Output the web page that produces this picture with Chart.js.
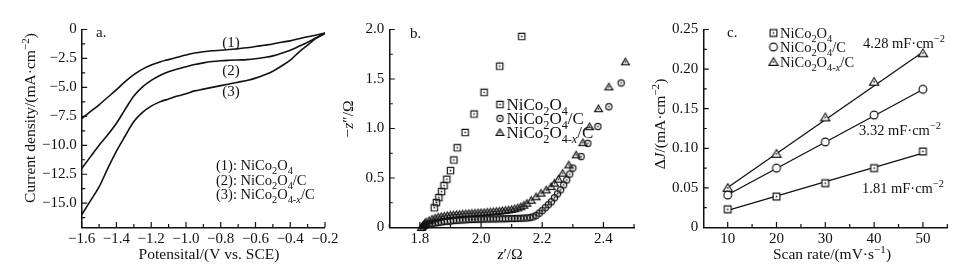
<!DOCTYPE html>
<html><head><meta charset="utf-8">
<script src="https://cdn.jsdelivr.net/npm/chart.js@4.4.1/dist/chart.umd.min.js"></script>
<style>
html,body{margin:0;padding:0;background:#fff;}
#wrap{position:relative;width:978px;height:273px;overflow:hidden;background:#fff;}
canvas{position:absolute;left:0;top:0;}
</style></head><body>
<div id="wrap">
<canvas id="ca" width="978" height="273"></canvas>
<canvas id="cb" width="978" height="273"></canvas>
<canvas id="cc" width="978" height="273"></canvas>
</div>
<script>
// ---------- Panel a: CV curves ----------
const potential = [-1.6,-1.55,-1.5,-1.45,-1.4,-1.35,-1.3,-1.25,-1.2,-1.15,-1.1,-1.05,-1.0,-0.95,-0.9,-0.85,-0.8,-0.75,-0.7,-0.65,-0.6,-0.55,-0.5,-0.45,-0.4,-0.35,-0.3,-0.25,-0.2];
const cv1 = [-7.7,-7.1,-6.5,-5.85,-5.2,-4.5,-3.9,-3.42,-3.07,-2.8,-2.6,-2.4,-2.2,-2.03,-1.92,-1.84,-1.79,-1.73,-1.66,-1.58,-1.47,-1.36,-1.25,-1.1,-0.98,-0.8,-0.63,-0.48,-0.3];
const cv2 = [-12.0,-11.0,-10.0,-9.1,-8.1,-6.9,-5.75,-4.95,-4.4,-3.97,-3.65,-3.42,-3.22,-3.02,-2.88,-2.77,-2.7,-2.66,-2.63,-2.6,-2.53,-2.42,-2.28,-2.05,-1.8,-1.45,-1.1,-0.7,-0.32];
const cv3 = [-16.0,-14.8,-13.6,-12.0,-10.5,-9.2,-7.95,-7.15,-6.62,-6.25,-6.0,-5.75,-5.55,-5.3,-5.15,-5.0,-4.85,-4.7,-4.55,-4.4,-4.2,-3.93,-3.6,-3.15,-2.65,-1.95,-1.35,-0.75,-0.35];
const aXTickVals = [-1.6,-1.4,-1.2,-1.0,-0.8,-0.6,-0.4,-0.2];
const aXTickLabels = ['−1.6','−1.4','−1.2','−1.0','−0.8','−0.6','−0.4','−0.2'];
const aYTickVals = [0,-2.5,-5,-7.5,-10,-12.5,-15];
const aYTickLabels = ['0','−2.5','−5.0','−7.5','−10.0','−12.5','−15.0'];
const curveTags = ['(1)','(2)','(3)'];
const aLegend = ['(1): NiCo_{2}O_{4}','(2): NiCo_{2}O_{4}/C','(3): NiCo_{2}O_{4-*x*}/C'];

// ---------- Panel b: Nyquist ----------
const sqZre = [1.847,1.854,1.862,1.871,1.879,1.888,1.900,1.911,1.922,1.948,1.977,2.010,2.061,2.133];
const sqZim = [0.200,0.252,0.302,0.363,0.423,0.488,0.575,0.682,0.806,0.960,1.146,1.365,1.630,1.930];
const ciZre = [1.81,1.815,1.82,1.83,1.84,1.85,1.86,1.87,1.88,1.89,1.90,1.91,1.92,1.93,1.94,1.95,1.96,1.97,1.98,1.99,2.00,2.01,2.02,2.03,2.04,2.05,2.06,2.07,2.08,2.09,2.10,2.11,2.12,2.13,2.14,2.15,2.16,2.17,2.18,2.19,2.20,2.21,2.22,2.23,2.24,2.25,2.26,2.27,2.28,2.29,2.30,2.327,2.349,2.382,2.418,2.458];
const ciZim = [0.0,0.015,0.025,0.035,0.04,0.045,0.05,0.055,0.06,0.063,0.066,0.07,0.072,0.074,0.076,0.078,0.08,0.081,0.082,0.083,0.084,0.085,0.086,0.086,0.087,0.087,0.088,0.088,0.089,0.09,0.09,0.091,0.092,0.093,0.095,0.097,0.10,0.107,0.12,0.145,0.17,0.20,0.23,0.26,0.30,0.34,0.38,0.43,0.48,0.54,0.60,0.716,0.85,1.02,1.22,1.46];
const trZre = [1.805,1.81,1.815,1.82,1.83,1.84,1.85,1.86,1.87,1.88,1.89,1.90,1.91,1.92,1.93,1.94,1.95,1.96,1.97,1.98,1.99,2.00,2.01,2.02,2.03,2.04,2.05,2.06,2.07,2.08,2.09,2.10,2.11,2.12,2.13,2.14,2.15,2.164,2.18,2.196,2.213,2.229,2.24,2.253,2.267,2.287,2.311,2.333,2.355,2.384,2.418,2.472];
const trZim = [0.0,0.02,0.04,0.055,0.07,0.085,0.095,0.105,0.11,0.115,0.12,0.125,0.128,0.131,0.134,0.137,0.14,0.142,0.144,0.146,0.148,0.15,0.152,0.155,0.158,0.16,0.163,0.166,0.17,0.174,0.178,0.183,0.19,0.198,0.21,0.225,0.245,0.275,0.31,0.347,0.38,0.413,0.448,0.488,0.548,0.632,0.733,0.857,1.018,1.2,1.42,1.673];
const bXTickVals = [1.8,2.0,2.2,2.4];
const bXTickLabels = ['1.8','2.0','2.2','2.4'];
const bYTickVals = [0,0.5,1.0,1.5,2.0];
const bYTickLabels = ['0','0.5','1.0','1.5','2.0'];
const seriesNames = ['NiCo_{2}O_{4}','NiCo_{2}O_{4}/C','NiCo_{2}O_{4-*x*}/C'];

// ---------- Panel c: double-layer capacitance ----------
const scanRate = [10,20,30,40,50];
const dJsq = [0.023,0.039,0.056,0.075,0.096];
const dJci = [0.041,0.075,0.108,0.142,0.1745];
const dJtr = [0.050,0.093,0.139,0.184,0.220];
const fitX = [10,50];
const fitSq = [0.0215,0.0940];
const fitCi = [0.0414,0.1742];
const fitTr = [0.0505,0.2217];
const capLabels = ['1.81 mF·cm^{−2}','3.32 mF·cm^{−2}','4.28 mF·cm^{−2}'];
const cXTickVals = [10,20,30,40,50];
const cXTickLabels = ['10','20','30','40','50'];
const cYTickVals = [0,0.05,0.10,0.15,0.20,0.25];
const cYTickLabels = ['0','0.05','0.10','0.15','0.20','0.25'];

// ---------- helpers ----------
const FONT = '"Liberation Serif", "Times New Roman", serif';
const INK = '#111';
const TICK_FS = 15, TITLE_FS = 15.5;
Chart.defaults.font.family = FONT;
Chart.defaults.font.size = TICK_FS;
Chart.defaults.color = INK;

function parseRich(str){
  const segs=[]; let i=0, mode=0, it=false, buf='';
  const push=()=>{ if(buf){ segs.push({t:buf,mode,it}); buf=''; } };
  while(i<str.length){
    const ch=str[i];
    if((ch==='_'||ch==='^') && str[i+1]==='{'){ push(); mode = ch==='_'?-1:1; i+=2; continue; }
    if(ch==='}' && mode!==0){ push(); mode=0; i++; continue; }
    if(ch==='*'){ push(); it=!it; i++; continue; }
    buf+=ch; i++;
  }
  push(); return segs;
}
function fontFor(s,size){ return (s.it?'italic ':'') + (s.mode? (size*0.72).toFixed(1) : size) + 'px ' + FONT; }
function drawRich(ctx,str,x,y,size,align,rot){
  const segs=parseRich(str);
  ctx.save(); ctx.translate(x,y); if(rot) ctx.rotate(rot);
  let w=0; for(const s of segs){ ctx.font=fontFor(s,size); s.w=ctx.measureText(s.t).width; w+=s.w; }
  let cx = align==='center' ? -w/2 : (align==='right' ? -w : 0);
  ctx.textAlign='left'; ctx.textBaseline='alphabetic'; ctx.fillStyle=INK;
  const base=size*0.34;
  for(const s of segs){
    ctx.font=fontFor(s,size);
    const dy = s.mode===-1 ? size*0.28 : (s.mode===1 ? -size*0.38 : 0);
    ctx.fillText(s.t,cx,base+dy); cx+=s.w;
  }
  ctx.restore();
}
function makeMarker(type,r,dot,fill){
  const s=Math.ceil(2*r+4), c=document.createElement('canvas'); c.width=s; c.height=s;
  const g=c.getContext('2d'), m=s/2;
  g.lineWidth=1.15; g.strokeStyle=INK; g.beginPath();
  if(type==='rect') g.rect(m-r,m-r,2*r,2*r);
  else if(type==='circle') g.arc(m,m,r,0,Math.PI*2);
  else { g.moveTo(m,m-r*1.05); g.lineTo(m+r*1.15,m+r*0.85); g.lineTo(m-r*1.15,m+r*0.85); g.closePath(); }
  if(fill){ g.fillStyle=fill; g.fill(); }
  g.stroke();
  if(dot){ g.fillStyle=INK; g.fillRect(m-0.75,m-0.75,1.5,1.5); }
  return c;
}
function axisCfg(o){
  return {
    type:'linear', min:o.min, max:o.max,
    grid:{display:false, drawTicks:false},
    border:{display:true, color:INK, width:1.5},
    ticks:{padding:o.pad, color:INK, font:{size:TICK_FS, family:FONT}, autoSkip:false, maxRotation:0,
      callback:(v,i)=>o.labels[i]},
    afterBuildTicks:s=>{ s.ticks=o.vals.map(v=>({value:v})); },
    afterFit:s=>{ if(o.fixW!=null) s.width=o.fixW; if(o.fixH!=null) s.height=o.fixH; }
  };
}
function stepVals(a,b,st){ const r=[]; for(let k=0; a+k*st<=b+1e-9; k++) r.push(Math.round((a+k*st)*10000)/10000); return r; }
function panelPlugin(p){
  return { id:'panelDeco', afterDraw(chart){
    const ctx=chart.ctx, xs=chart.scales.x, ys=chart.scales.y, a=chart.chartArea;
    ctx.save(); ctx.strokeStyle=INK; ctx.lineWidth=1.2; ctx.beginPath();
    const tk=(vals,len,ax)=>{ for(const v of vals){
      if(ax==='x'){ const px=xs.getPixelForValue(v); ctx.moveTo(px,a.bottom); ctx.lineTo(px,a.bottom-len); }
      else { const py=ys.getPixelForValue(v); ctx.moveTo(a.left,py); ctx.lineTo(a.left+len,py); } } };
    tk(p.xMajor,5.5,'x'); tk(p.xMinor,3.5,'x'); tk(p.yMajor,5.5,'y'); tk(p.yMinor,3.5,'y');
    ctx.stroke(); ctx.restore();
    p.draw(ctx,chart);
  }};
}
const baseOpts = (pad)=>({
  responsive:false, devicePixelRatio:1, animation:false, events:[],
  layout:{padding:pad},
  plugins:{legend:{display:false}, tooltip:{enabled:false}}
});

// ---------- Chart a ----------
new Chart(document.getElementById('ca'), {
  type:'line',
  data:{ datasets:[cv1,cv2,cv3].map(arr=>({
    data:potential.map((x,i)=>({x:x,y:arr[i]})),
    borderColor:INK, borderWidth:1.6, pointRadius:0, cubicInterpolationMode:'monotone', fill:false }))},
  options:Object.assign(baseOpts({left:0,right:653,top:29.5,bottom:0}),{
    scales:{
      x:axisCfg({min:-1.6,max:-0.2,vals:aXTickVals,labels:aXTickLabels,fixH:45.5,pad:3}),
      y:axisCfg({min:-17.1,max:0,vals:aYTickVals,labels:aYTickLabels,fixW:81.7,pad:5})
    }}),
  plugins:[panelPlugin({
    xMajor:aXTickVals, xMinor:stepVals(-1.5,-0.3,0.2),
    yMajor:aYTickVals, yMinor:stepVals(-16.25,-1.25,2.5),
    draw(ctx){
      drawRich(ctx,'a.',96,32,15,'left');
      const tagY=[42,70,91];
      curveTags.forEach((t,i)=>drawRich(ctx,t,231,tagY[i],15,'center'));
      const legY=[165,180,194.5];
      aLegend.forEach((t,i)=>drawRich(ctx,t,216,legY[i],14.5,'left'));
      drawRich(ctx,'Potensital/(V vs. SCE)',209,254,TITLE_FS,'center');
      drawRich(ctx,'Current density/(mA·cm^{−2})',30,118,TITLE_FS,'center',-Math.PI/2);
    }
  })]
});

// ---------- Chart b ----------
const mkB = { sq:makeMarker('rect',3.2,true,null), ci:makeMarker('circle',3.1,true,null), tr:makeMarker('tri',3.4,true,null) };
const ptsOf=(xa,ya)=>xa.map((x,i)=>({x:x,y:ya[i]}));
new Chart(document.getElementById('cb'), {
  type:'scatter',
  data:{ datasets:[
    {data:ptsOf(sqZre,sqZim), pointStyle:mkB.sq, clip:false},
    {data:ptsOf(trZre,trZim), pointStyle:mkB.tr, clip:false},
    {data:ptsOf(ciZre,ciZim), pointStyle:mkB.ci, clip:false}
  ]},
  options:Object.assign(baseOpts({left:349.3,right:344,top:29.5,bottom:0}),{
    scales:{
      x:axisCfg({min:1.7,max:2.5,vals:bXTickVals,labels:bXTickLabels,fixH:45.5,pad:3}),
      y:axisCfg({min:0,max:2.0,vals:bYTickVals,labels:bYTickLabels,fixW:40,pad:5})
    }}),
  plugins:[panelPlugin({
    xMajor:bXTickVals, xMinor:[1.7,1.9,2.1,2.3,2.5],
    yMajor:bYTickVals, yMinor:[0.25,0.75,1.25,1.75],
    draw(ctx){
      drawRich(ctx,'b.',410,33,15,'left');
      const imgs=[mkB.sq,mkB.ci,mkB.tr], ly=[104.5,118.5,132.5];
      imgs.forEach((im,i)=>{ ctx.drawImage(im,500-im.width/2,ly[i]-im.height/2); drawRich(ctx,seriesNames[i],506.5,ly[i],17,'left'); });
      drawRich(ctx,'*z*′/Ω',510,254,TITLE_FS,'center');
      drawRich(ctx,'−*z*″/Ω',348,119,TITLE_FS,'center',-Math.PI/2);
    }
  })]
});

// ---------- Chart c ----------
const mkC = { sq:makeMarker('rect',3.4,true,'#fff'), ci:makeMarker('circle',3.9,false,'#fff'), tr:makeMarker('tri',4.0,true,'#fff') };
const fitDs=(ya)=>({type:'line', data:fitX.map((x,i)=>({x:x,y:ya[i]})), borderColor:INK, borderWidth:1.3, pointRadius:0, showLine:true, order:2, clip:false});
new Chart(document.getElementById('cc'), {
  type:'scatter',
  data:{ datasets:[
    fitDs(fitSq), fitDs(fitCi), fitDs(fitTr),
    {data:ptsOf(scanRate,dJsq), pointStyle:mkC.sq, order:1, clip:false},
    {data:ptsOf(scanRate,dJci), pointStyle:mkC.ci, order:1, clip:false},
    {data:ptsOf(scanRate,dJtr), pointStyle:mkC.tr, order:1, clip:false}
  ]},
  options:Object.assign(baseOpts({left:663.3,right:30.7,top:29.5,bottom:0}),{
    scales:{
      x:axisCfg({min:5,max:55,vals:cXTickVals,labels:cXTickLabels,fixH:45.5,pad:3}),
      y:axisCfg({min:0,max:0.25,vals:cYTickVals,labels:cYTickLabels,fixW:40,pad:5})
    }}),
  plugins:[panelPlugin({
    xMajor:cXTickVals, xMinor:[15,25,35,45,55],
    yMajor:cYTickVals, yMinor:stepVals(0.025,0.225,0.05),
    draw(ctx){
      drawRich(ctx,'c.',727,32,15,'left');
      const imgs=[mkC.sq,mkC.ci,mkC.tr], ly=[33,47,62];
      imgs.forEach((im,i)=>{ ctx.drawImage(im,773.5-im.width/2,ly[i]-im.height/2); drawRich(ctx,seriesNames[i],780,ly[i],14.5,'left'); });
      drawRich(ctx,capLabels[2],863,43,14.5,'left');
      drawRich(ctx,capLabels[1],859,130,14.5,'left');
      drawRich(ctx,capLabels[0],862,188,14.5,'left');
      drawRich(ctx,'Scan rate/(mV·s^{−1})',832,254,TITLE_FS,'center');
      drawRich(ctx,'Δ*J*/(mA·cm^{−2})',660,124,TITLE_FS,'center',-Math.PI/2);
    }
  })]
});
</script>
</body></html>
